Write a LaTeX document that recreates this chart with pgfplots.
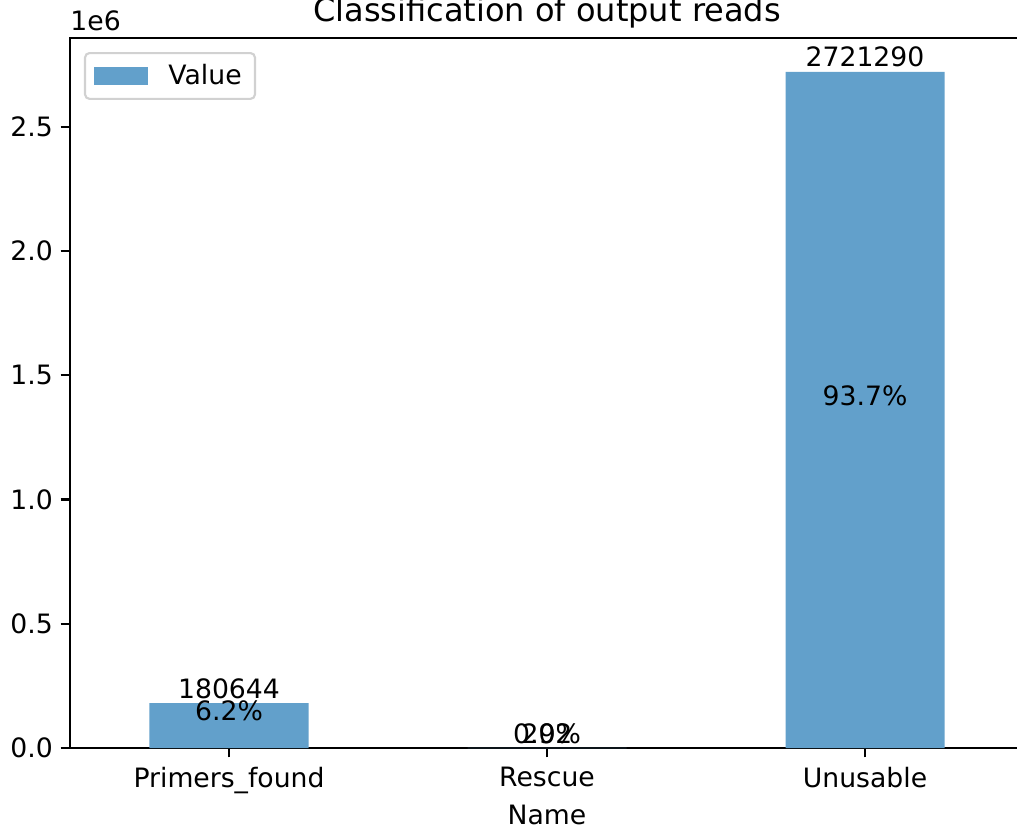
\documentclass[border=0pt]{standalone}
\usepackage{fontspec}
\setmainfont{DejaVu Sans}
\usepackage{pgfplots}
\pgfplotsset{compat=1.18}
\definecolor{barblue}{HTML}{62A0CB}
\begin{document}
\begin{tikzpicture}
\begin{axis}[
  name=ax,
  scale only axis,
  width=429.3pt, height=319.5pt,
  xmin=-0.5, xmax=2.5, ymin=0, ymax=2857354,
  axis line style={line width=0.96pt},
  every tick/.style={black, line width=0.96pt},
  major tick length=4.2pt,
  tick align=outside,
  xtick pos=bottom, ytick pos=left,
  xtick={0,1,2},
  xticklabels={Primers\_found, Rescue, Unusable},
  ytick={0,500000,1000000,1500000,2000000,2500000},
  yticklabels={0.0,0.5,1.0,1.5,2.0,2.5},
  scaled y ticks=false,
  tick label style={font=\fontsize{12}{14}\selectfont},
  xticklabel style={yshift=-0.8pt},
  xlabel={Name},
  xlabel style={font=\fontsize{12}{14}\selectfont, yshift=1.6pt},
  legend style={at={(rel axis cs:0,1)}, anchor=north west, xshift=6.3pt, yshift=-6.3pt,
    draw=black!18, rounded corners=2pt, line width=0.96pt, font=\fontsize{12}{14}\selectfont,
    inner xsep=4pt, inner ysep=3pt},
  legend image code/.code={\fill[barblue, sharp corners] (0pt,-4pt) rectangle (24.3pt,4pt); \path[draw=none, fill=none] (24.3pt,0pt) -- (31.5pt,0pt);},
  clip=false,
]
\addplot[ybar, bar width=0.5, fill=barblue, draw=none,
  nodes near coords, point meta=explicit symbolic,
  nodes near coords style={anchor=base, yshift=2.2pt, inner sep=0pt, font=\fontsize{12}{14}\selectfont}]
  table[meta=lab] {
x y lab
0 180644 180644
1 292 292
2 2721290 2721290
};
\addlegendentry{Value}
\addplot[draw=none, mark=none, forget plot,
  nodes near coords, point meta=explicit symbolic,
  nodes near coords style={anchor=base, yshift=2.2pt, inner sep=0pt, font=\fontsize{12}{14}\selectfont}]
  table[meta=lab] {
x y lab
0 90322 6.2\%
1 146 0.0\%
2 1360645 93.7\%
};
\node[anchor=base west, inner sep=0pt, font=\fontsize{12}{14}\selectfont] at ([yshift=3.6pt]rel axis cs:0,1) {1e6};
\node[anchor=base, inner sep=0pt, font=\fontsize{14.4}{17}\selectfont] at ([yshift=7.4pt]rel axis cs:0.5,1) {Classification of output reads};
\end{axis}
\pgfresetboundingbox
\path[use as bounding box] ([xshift=-31.5pt, yshift=-36.45pt]ax.south west) rectangle ([xshift=-3.15pt, yshift=17.1pt]ax.north east);
\end{tikzpicture}
\end{document}
